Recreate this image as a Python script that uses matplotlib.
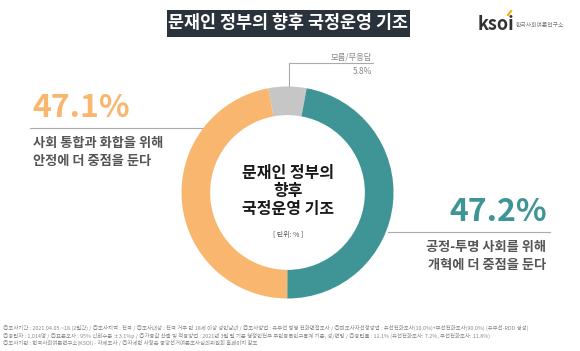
import matplotlib.pyplot as plt
from matplotlib.patches import Rectangle
from matplotlib.lines import Line2D

plt.rcParams['font.family'] = ['Noto Sans CJK KR', 'DejaVu Sans']

W, H = 580, 351

# 데이터
labels = ['모름/무응답', '공정-투명 사회를 위해\n개혁에 더 중점을 둔다', '사회 통합과 화합을 위해\n안정에 더 중점을 둔다']
values = [5.8, 47.2, 47.1]
colors = ['#c6c6c6', '#3f9595', '#f8b66f']

title = '문재인 정부의 향후 국정운영 기조'
center_text = '문재인 정부의\n향후\n국정운영 기조'
footnotes = [
    '◎조사기간 : 2021.04.05.~18.(2일간) / ◎조사지역 : 전국 / ◎조사대상 : 전국 거주 만 18세 이상 성인남녀 / ◎조사방법 : 유무선 병행 전화면접조사 / ◎피조사자선정방법 : 유선전화조사(10.0%)+무선전화조사(90.0%) (유무선-RDD 생성)',
    '◎응답자 : 1,014명 / ◎표본오차 : 95% 신뢰수준 ±3.1%p / ◎가중값 산출 및 적용방법 : 2021년 3월 말 기준 행정안전부 주민등록인구통계 기준, 성/연령 / ◎응답률 : 11.1% (유선전화조사: 7.2%, 무선전화조사: 11.8%)',
    '◎조사기관 : 한국사회여론연구소(KSOI) - 자체조사 / ◎자세한 사항은 중앙선거여론조사심의위원회 홈페이지 참조',
]


def fx(x):
    return x / W


def fy(y):
    return 1 - y / H


fig = plt.figure(figsize=(5.8, 3.51), dpi=100)
fig.patch.set_facecolor('white')

# 도넛
cx, cy, r = 287.5, 192.5, 106
ax = fig.add_axes([fx(cx - r), fy(cy + r), 2 * r / W, 2 * r / H])
start = 90 + values[0] / 100 * 360 / 2
ax.pie(values, colors=colors, startangle=start, counterclock=False,
       radius=1, wedgeprops=dict(width=0.27, edgecolor='none'))
ax.set_xlim(-1, 1)
ax.set_ylim(-1, 1)
ax.set_aspect('equal')
ax.axis('off')

# 제목 박스
fig.patches.append(Rectangle((fx(167), fy(37)), fx(410) - fx(167), fy(10) - fy(37),
                             transform=fig.transFigure, facecolor='#2a323c', edgecolor='none'))
fig.text(fx(288), fy(23.5), title, color='white', fontsize=12.5, fontweight='bold',
         ha='center', va='center')

# 로고
fig.text(fx(478), fy(25), 'ksoi', color='#333333', fontsize=13, fontweight='bold',
         ha='left', va='center')
fig.lines.append(Line2D([fx(508), fx(511)], [fy(15), fy(11)], transform=fig.transFigure,
                        color='#f2b100', lw=1.5))
fig.text(fx(516), fy(25.5), '한국사회여론연구소', color='#777777', fontsize=4.2,
         ha='left', va='center')

# 중앙 텍스트
fig.text(fx(288), fy(191), center_text, color='#1a1a1a', fontsize=11.5, fontweight='bold',
         ha='center', va='center', linespacing=1.15)
fig.text(fx(288), fy(235), '[ 단위: % ]', color='#555555', fontsize=5,
         ha='center', va='center')

# 왼쪽 라벨 (안정)
fig.text(fx(32), fy(108), f'{values[2]}%', color=colors[2], fontsize=23, fontweight='bold',
         ha='left', va='center')
fig.lines.append(Line2D([fx(30), fx(202)], [fy(128), fy(128)], transform=fig.transFigure,
                        color='#aaaaaa', lw=0.8))
fig.text(fx(33), fy(152), labels[2], color='#555555', fontsize=9.5, fontweight='bold',
         ha='left', va='center', linespacing=1.3)

# 오른쪽 라벨 (개혁)
fig.text(fx(547), fy(212), f'{values[1]}%', color=colors[1], fontsize=23, fontweight='bold',
         ha='right', va='center')
fig.lines.append(Line2D([fx(388), fx(550)], [fy(232), fy(232)], transform=fig.transFigure,
                        color='#aaaaaa', lw=0.8))
fig.text(fx(546), fy(256), labels[1], color='#555555', fontsize=9.5, fontweight='bold',
         ha='right', va='center', linespacing=1.3, multialignment='right')

# 상단 라벨 (모름/무응답)
fig.lines.append(Line2D([fx(289), fx(289), fx(373)], [fy(86), fy(63), fy(63)],
                        transform=fig.transFigure, color='#aaaaaa', lw=0.8))
fig.text(fx(372), fy(57), labels[0], color='#888888', fontsize=6,
         ha='right', va='center')
fig.text(fx(372), fy(72), f'{values[0]}%', color='#888888', fontsize=6,
         ha='right', va='center')

# 각주
for i, line in enumerate(footnotes):
    fig.text(fx(3), fy(328 + i * 7.7), line, color='#888888', fontsize=3.9,
             ha='left', va='center')

fig.savefig('out.png', dpi=100, facecolor='white')
